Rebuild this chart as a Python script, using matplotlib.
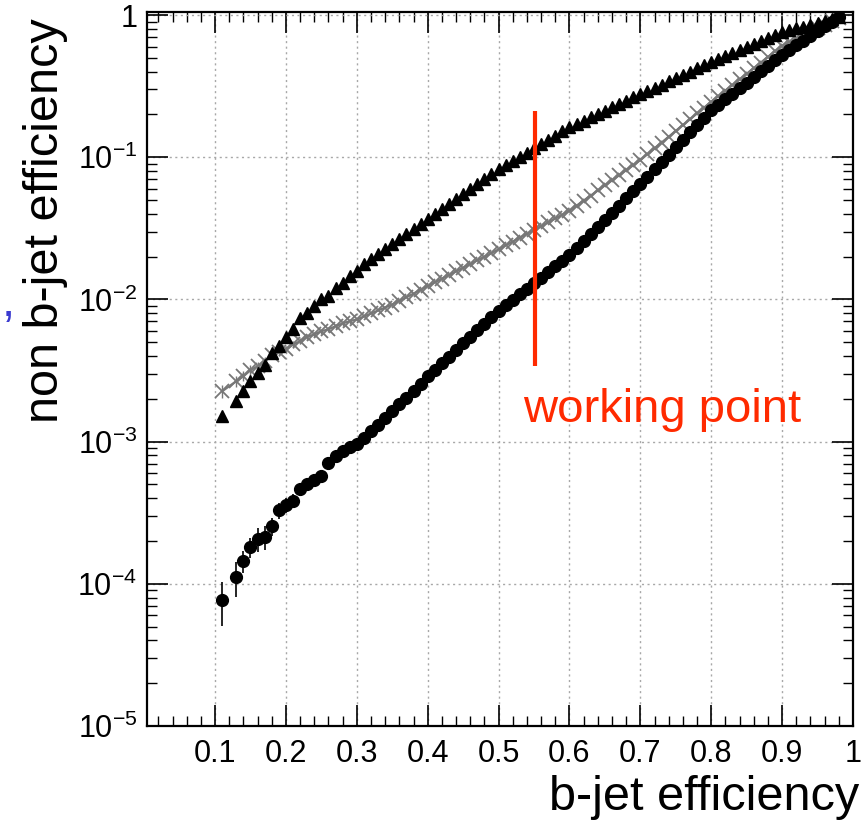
import numpy as np
import matplotlib
matplotlib.use('Agg')
import matplotlib.pyplot as plt
from matplotlib.ticker import MultipleLocator, LogLocator, NullFormatter

plt.rcParams['font.family'] = ['Liberation Sans', 'DejaVu Sans']
plt.rcParams['mathtext.fontset'] = 'custom'
plt.rcParams['mathtext.rm'] = 'Liberation Sans'
plt.rcParams['mathtext.it'] = 'Liberation Sans:italic'
plt.rcParams['mathtext.bf'] = 'Liberation Sans:bold'
plt.rcParams['mathtext.default'] = 'rm'

# ---------------- data ----------------
b_eff = [0.11, 0.13, 0.14, 0.15, 0.16, 0.17, 0.18, 0.19, 0.20,
         0.21, 0.22, 0.23, 0.24, 0.25, 0.26, 0.27, 0.28, 0.29, 0.30,
         0.31, 0.32, 0.33, 0.34, 0.35, 0.36, 0.37, 0.38, 0.39, 0.40,
         0.41, 0.42, 0.43, 0.44, 0.45, 0.46, 0.47, 0.48, 0.49, 0.50,
         0.51, 0.52, 0.53, 0.54, 0.55, 0.56, 0.57, 0.58, 0.59, 0.60,
         0.61, 0.62, 0.63, 0.64, 0.65, 0.66, 0.67, 0.68, 0.69, 0.70,
         0.71, 0.72, 0.73, 0.74, 0.75, 0.76, 0.77, 0.78, 0.79, 0.80,
         0.81, 0.82, 0.83, 0.84, 0.85, 0.86, 0.87, 0.88, 0.89, 0.90,
         0.91, 0.92, 0.93, 0.94, 0.95, 0.96, 0.97, 0.98]

# log10 of non b-jet efficiency, triangle series
log_eff_triangle = [-2.822, -2.716, -2.646, -2.575, -2.516, -2.458, -2.375, -2.329, -2.263,
                    -2.211, -2.129, -2.094, -2.047, -2.000, -1.977, -1.918, -1.882, -1.836, -1.801,
                    -1.754, -1.718, -1.683, -1.648, -1.613, -1.578, -1.543, -1.508, -1.472, -1.437,
                    -1.402, -1.367, -1.331, -1.296, -1.261, -1.226, -1.190, -1.155, -1.120, -1.085,
                    -1.055, -1.026, -0.996, -0.967, -0.937, -0.907, -0.878, -0.848, -0.819, -0.789,
                    -0.766, -0.743, -0.719, -0.696, -0.673, -0.649, -0.626, -0.603, -0.579, -0.556,
                    -0.534, -0.511, -0.489, -0.466, -0.444, -0.421, -0.399, -0.376, -0.354, -0.331,
                    -0.310, -0.289, -0.268, -0.247, -0.226, -0.204, -0.183, -0.162, -0.141, -0.120,
                    -0.107, -0.094, -0.081, -0.068, -0.055, -0.042, -0.028, -0.014]

# log10 of non b-jet efficiency, cross series
log_eff_cross = [-2.646, -2.575, -2.540, -2.498, -2.470, -2.434, -2.394, -2.371, -2.352,
                 -2.317, -2.294, -2.263, -2.246, -2.223, -2.211, -2.188, -2.169, -2.153, -2.141,
                 -2.120, -2.099, -2.078, -2.057, -2.036, -2.010, -1.985, -1.959, -1.933, -1.906,
                 -1.880, -1.854, -1.829, -1.803, -1.777, -1.751, -1.725, -1.700, -1.674, -1.648,
                 -1.620, -1.593, -1.566, -1.539, -1.512, -1.485, -1.458, -1.431, -1.404, -1.377,
                 -1.341, -1.305, -1.270, -1.234, -1.198, -1.163, -1.127, -1.091, -1.056, -1.020,
                 -0.979, -0.938, -0.897, -0.856, -0.815, -0.774, -0.733, -0.692, -0.651, -0.610,
                 -0.571, -0.531, -0.492, -0.453, -0.413, -0.374, -0.334, -0.295, -0.255, -0.216,
                 -0.190, -0.165, -0.140, -0.115, -0.092, -0.068, -0.042, -0.018]

# log10 of non b-jet efficiency, circle series
log_eff_circle = [-4.113, -3.953, -3.838, -3.744, -3.685, -3.671, -3.596, -3.484, -3.444,
                  -3.415, -3.333, -3.296, -3.268, -3.239, -3.150, -3.104, -3.068, -3.037, -3.014,
                  -2.974, -2.927, -2.880, -2.833, -2.786, -2.738, -2.690, -2.643, -2.595, -2.540,
                  -2.494, -2.448, -2.402, -2.356, -2.310, -2.264, -2.218, -2.172, -2.126, -2.080,
                  -2.041, -2.002, -1.963, -1.924, -1.885, -1.846, -1.807, -1.768, -1.729, -1.690,
                  -1.640, -1.590, -1.540, -1.490, -1.440, -1.390, -1.340, -1.290, -1.240, -1.190,
                  -1.138, -1.086, -1.034, -0.982, -0.930, -0.878, -0.826, -0.774, -0.722, -0.670,
                  -0.631, -0.592, -0.553, -0.514, -0.475, -0.436, -0.397, -0.358, -0.319, -0.280,
                  -0.247, -0.213, -0.180, -0.146, -0.113, -0.080, -0.047, -0.015]

# relative errors (visible only at low efficiency)
rel_err_circle = [0.34, 0.27, 0.18, 0.16, 0.19, 0.19, 0.14, 0.13, 0.12,
                  0.11, 0.10, 0.09, 0.08, 0.08, 0.07, 0.07, 0.06, 0.06, 0.06] + [0.0] * 68
rel_err_cross = [0.10, 0.09, 0.08, 0.08, 0.07, 0.07, 0.06, 0.06, 0.05,
                 0.05, 0.05, 0.05, 0.04, 0.04, 0.04, 0.04, 0.04, 0.04, 0.03] + [0.0] * 68

x_tick_values = [0.1, 0.2, 0.3, 0.4, 0.5, 0.6, 0.7, 0.8, 0.9, 1.0]
x_tick_labels = ['0.1', '0.2', '0.3', '0.4', '0.5', '0.6', '0.7', '0.8', '0.9', '1']
y_tick_values = [1e-5, 1e-4, 1e-3, 1e-2, 1e-1, 1.0]
y_tick_labels = ['10$^{-5}$', '10$^{-4}$', '10$^{-3}$', '10$^{-2}$', '10$^{-1}$', '1']

working_point_eff = 0.551
working_point_span = (3.4e-3, 0.21)

# ---------------- figure ----------------
W, H = 868, 826
fig = plt.figure(figsize=(W / 100, H / 100), dpi=100)
ax = fig.add_axes([147 / W, 1 - 726 / H, (853 - 147) / W, (726 - 12) / H])
ax.set_yscale('log')
ax.set_xlim(0.004, 1.0)
ax.set_ylim(1e-5, 1.05)

x = np.array(b_eff)
y_tri = np.power(10.0, log_eff_triangle)
y_cross = np.power(10.0, log_eff_cross)
y_circ = np.power(10.0, log_eff_circle)

ax.grid(True, which='major', color='#a8a8a8', linestyle=(0, (1.5, 2.5)), linewidth=1.0, zorder=0)

ax.errorbar(x, y_cross, yerr=y_cross * np.array(rel_err_cross), color='#777777',
            marker='x', ms=10, mew=1.3, lw=1.6, elinewidth=1.0, zorder=2)
ax.plot(x, y_tri, linestyle='none', marker='^', color='black', ms=8, zorder=3)
ax.errorbar(x, y_circ, yerr=y_circ * np.array(rel_err_circle), fmt='o', color='black',
            ms=8.5, elinewidth=1.2, capsize=0, zorder=4)

ax.vlines(working_point_eff, working_point_span[0], working_point_span[1],
          color='#ff2a00', lw=3, zorder=5)

ax.set_xticks(x_tick_values)
ax.set_xticklabels(x_tick_labels)
ax.xaxis.set_minor_locator(MultipleLocator(0.02))
ax.set_yticks(y_tick_values)
ax.set_yticklabels(y_tick_labels)
ax.yaxis.set_minor_locator(LogLocator(base=10, subs=np.arange(2, 10)))
ax.yaxis.set_minor_formatter(NullFormatter())

ax.tick_params(which='major', direction='in', length=15, width=1.2, top=True, right=True,
               labelsize=22, colors='black')
ax.tick_params(axis='x', which='major', pad=9)
ax.tick_params(axis='y', which='major', pad=7)
ax.tick_params(which='minor', direction='in', length=7, width=1.0, top=True, right=True)
for s in ax.spines.values():
    s.set_linewidth(1.6)

fig.text(859 / W, 1 - 820 / H, 'b-jet efficiency', fontsize=35, ha='right', va='bottom')
fig.text(46 / W, 1 - 18 / H, 'non b-jet efficiency', fontsize=35, rotation=90,
         ha='center', va='top')
fig.text(523 / W, 1 - 422 / H, 'working point', fontsize=34, color='#ff2a00',
         ha='left', va='baseline')
fig.text(2 / W, 1 - 316 / H, ',', fontsize=34, color='#3a3ad0', ha='left', va='baseline')

fig.savefig('out.png', dpi=100)
